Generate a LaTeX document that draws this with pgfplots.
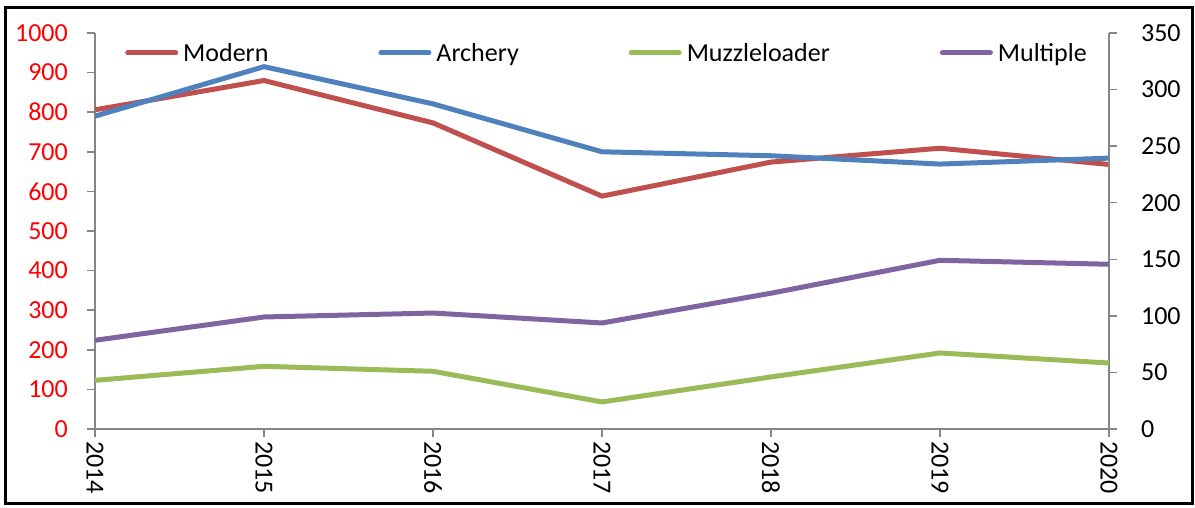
\documentclass[border=0pt]{standalone}
\usepackage{fontspec}
\setmainfont{Carlito}
\usepackage{pgfplots}
\pgfplotsset{compat=1.18}
\definecolor{cred}{HTML}{C0504D}
\definecolor{cblue}{HTML}{4F81BD}
\definecolor{cgreen}{HTML}{9BBB59}
\definecolor{cpurple}{HTML}{8064A2}
\definecolor{axgray}{HTML}{868686}
\pgfplotsset{
  common/.style={
    at={(0,0)}, anchor=south west, scale only axis,
    width=1014pt, height=396pt,
    xmin=2014, xmax=2020,
    tick align=outside,
    major tick length=8pt,
    axis line style={draw=axgray, line width=1.5pt},
    every tick/.style={draw=axgray, line width=1.5pt},
    tick label style={font=\fontsize{26}{31}\selectfont, inner sep=0pt},
    /pgf/number format/1000 sep={},
    /pgf/number format/assume math mode=true,
  },
  ser/.style={line width=5pt, line join=round},
}
\begin{document}
\begin{tikzpicture}[x=1pt,y=1pt]
\path[use as bounding box] (-95,-79) rectangle (1100,429);
\draw[line width=3pt] (-89.5,-74.5) rectangle (1097,421.5);
\begin{axis}[common,
  ymin=0, ymax=1000, ytick distance=100,
  axis x line*=bottom, axis y line*=left,
  xtick={2014,2015,2016,2017,2018,2019,2020},
  xticklabel style={rotate=-90, anchor=west, xshift=4pt},
  yticklabel style={text=red, anchor=east, xshift=-19pt},
]
\addplot[ser, cred] coordinates {(2014,806) (2015,880) (2016,773) (2017,588) (2018,674) (2019,709) (2020,668)};
\addplot[ser, cblue] coordinates {(2014,790) (2015,915) (2016,821) (2017,700) (2018,690) (2019,669) (2020,684)};
\end{axis}
\begin{axis}[common,
  ymin=0, ymax=350, ytick distance=50,
  axis x line=none, axis y line*=right,
  yticklabel style={text=black, anchor=west, xshift=24pt},
  legend columns=4,
  legend style={at={(0.0296,0.950)}, anchor=west, draw=none, fill=none, inner sep=0pt,
    font=\fontsize{26}{31}\selectfont,
    nodes={inner sep=0pt},
    /tikz/every odd column/.append style={column sep=5pt},
    /tikz/every even column/.append style={column sep=110pt}},
  legend image code/.code={\draw[#1, line cap=round] (2.5pt,0pt) -- (50.5pt,0pt);},
]
\addlegendimage{ser, cred}\addlegendentry{Modern}
\addlegendimage{ser, cblue}\addlegendentry{Archery}
\addplot[ser, cgreen] coordinates {(2014,43) (2015,55.4) (2016,51) (2017,23.9) (2018,46) (2019,67.2) (2020,58.3)};
\addlegendentry{Muzzleloader}
\addplot[ser, cpurple] coordinates {(2014,78.4) (2015,99) (2016,102.5) (2017,93.7) (2018,120) (2019,149.1) (2020,145.6)};
\addlegendentry{Multiple}
\end{axis}
\end{tikzpicture}
\end{document}
